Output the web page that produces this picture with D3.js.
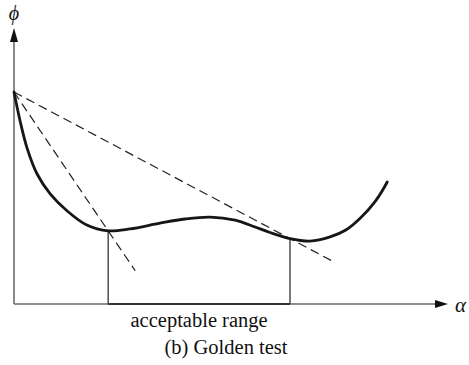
<!DOCTYPE html>
<html>
<head>
<meta charset="utf-8">
<script src="https://cdn.jsdelivr.net/npm/d3@7"></script>
<style>
  html, body { margin: 0; padding: 0; background: #fff; }
  svg { display: block; }
</style>
</head>
<body>
<svg id="chart" width="469" height="365"></svg>
<script>
// ---- data ----
const curveAlpha = [0, 0.14, 0.30, 0.53, 0.83, 1.22, 1.67, 2.16, 2.66, 3.35, 3.92, 4.50, 5.07, 5.53, 5.87, 6.33, 6.79, 7.25, 7.61, 7.94, 8.29, 8.56];
const curvePhi   = [7.68, 6.63, 5.65, 4.71, 3.99, 3.37, 2.86, 2.65, 2.72, 2.93, 3.08, 3.15, 3.04, 2.79, 2.59, 2.37, 2.28, 2.43, 2.68, 3.11, 3.73, 4.42];
const rangeAlpha = [2.16, 6.33];     // ends of the acceptable range
const rangePhi   = [2.65, 2.37];     // phi at those ends
const chordEndAlpha = [2.78, 7.36];  // where dashed lines stop
const xLabel = "α";
const yLabel = "ϕ";
const rangeLabel = "acceptable range";
const caption = "(b) Golden test";

// ---- scales ----
const x = d3.scaleLinear().domain([0, 10]).range([14, 450]);
const y = d3.scaleLinear().domain([0, 10]).range([304, 28]);

const svg = d3.select("#chart");
const axisColor = "#6b6b6b";
const serif = "'Liberation Serif', 'Times New Roman', Times, 'DejaVu Serif', serif";

// axes
svg.append("line").attr("x1", x(0)).attr("x2", x(0)).attr("y1", y(0)).attr("y2", y(10) + 10)
  .attr("stroke", axisColor).attr("stroke-width", 1.6);
svg.append("line").attr("x1", x(0)).attr("x2", x(10) - 10).attr("y1", y(0)).attr("y2", y(0))
  .attr("stroke", axisColor).attr("stroke-width", 1.6);
// darker segment of the x axis for the acceptable range
svg.append("line").attr("x1", x(rangeAlpha[0])).attr("x2", x(rangeAlpha[1])).attr("y1", y(0)).attr("y2", y(0))
  .attr("stroke", "#333").attr("stroke-width", 1.8);

// arrowheads
const yTip = [x(0), y(10)];
svg.append("path")
  .attr("d", `M${yTip[0]},${yTip[1]} L${yTip[0] - 4},${yTip[1] + 14} L${yTip[0] + 4},${yTip[1] + 14} Z`)
  .attr("fill", "#111");
const xTip = [x(10) - 2, y(0)];
svg.append("path")
  .attr("d", `M${xTip[0]},${xTip[1]} L${xTip[0] - 13},${xTip[1] - 4} L${xTip[0] - 13},${xTip[1] + 4} Z`)
  .attr("fill", "#111");

// vertical lines at acceptable range ends
rangeAlpha.forEach((a, i) => {
  svg.append("line").attr("x1", x(a)).attr("x2", x(a)).attr("y1", y(rangePhi[i])).attr("y2", y(0))
    .attr("stroke", "#333").attr("stroke-width", 1.3);
});

// dashed chords from (0, phi(0))
const phi0 = curvePhi[0];
rangeAlpha.forEach((a, i) => {
  const slope = (rangePhi[i] - phi0) / a;
  const ea = chordEndAlpha[i];
  svg.append("line")
    .attr("x1", x(0)).attr("y1", y(phi0))
    .attr("x2", x(ea)).attr("y2", y(phi0 + slope * ea))
    .attr("stroke", "#222").attr("stroke-width", 1.2)
    .attr("stroke-dasharray", "9,5");
});

// curve
const pts = curveAlpha.map((a, i) => [a, curvePhi[i]]);
const line = d3.line().x(d => x(d[0])).y(d => y(d[1])).curve(d3.curveCatmullRom.alpha(0.5));
svg.append("path").datum(pts).attr("d", line)
  .attr("fill", "none").attr("stroke", "#161616").attr("stroke-width", 2.8)
  .attr("stroke-linecap", "round");

// labels
svg.append("text").attr("x", x(0)).attr("y", 20).attr("text-anchor", "middle")
  .attr("font-family", serif).attr("fill", "#111")
  .attr("font-size", 20).attr("font-style", "italic").text(yLabel);
svg.append("text").attr("x", 455).attr("y", 312)
  .attr("font-family", serif).attr("fill", "#111")
  .attr("font-size", 21).attr("font-style", "italic").text(xLabel);
svg.append("text").attr("x", (x(rangeAlpha[0]) + x(rangeAlpha[1])) / 2).attr("y", 327)
  .attr("font-family", serif).attr("fill", "#111")
  .attr("text-anchor", "middle").attr("font-size", 20.5).text(rangeLabel);
svg.append("text").attr("x", 226).attr("y", 354)
  .attr("font-family", serif).attr("fill", "#111")
  .attr("text-anchor", "middle").attr("font-size", 20.5).text(caption);
</script>
</body>
</html>
